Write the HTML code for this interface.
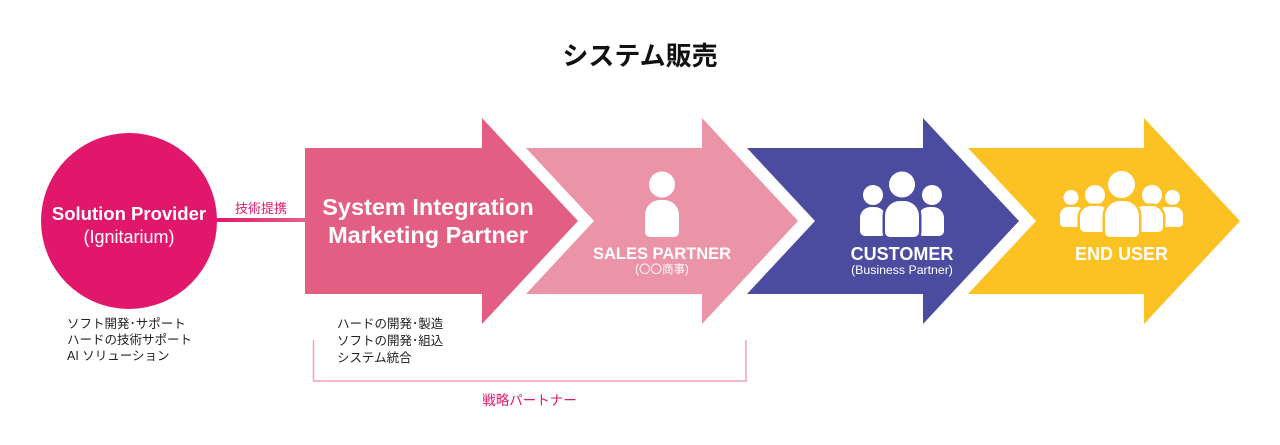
<!DOCTYPE html>
<html>
<head>
<meta charset="utf-8">
<style>
html,body{margin:0;padding:0;background:#fff;}
svg{display:block;}
.jp{font-family:"Liberation Sans","Noto Sans CJK JP",sans-serif;}
.lt{font-family:"Liberation Sans","Noto Sans CJK JP",sans-serif;}
</style>
</head>
<body>
<svg width="1280" height="445" viewBox="0 0 1280 445" xmlns="http://www.w3.org/2000/svg">
  <defs>
    <linearGradient id="lg" x1="0" y1="0" x2="1" y2="0">
      <stop offset="0" stop-color="#E0176B"/>
      <stop offset="1" stop-color="#E3628A"/>
    </linearGradient>
  </defs>
  <rect width="1280" height="445" fill="#fff"/>

  <!-- Title -->
  <text x="640" y="65" text-anchor="middle" class="jp" font-size="26" font-weight="bold" fill="#111">システム販売</text>

  <!-- Connector -->
  <rect x="214" y="218" width="92" height="4" fill="url(#lg)"/>
  <text x="261" y="213" text-anchor="middle" class="jp" font-size="13" fill="#E0176B">技術提携</text>

  <!-- Circle -->
  <circle cx="129" cy="221" r="88" fill="#E0176B"/>
  <text x="129" y="220" text-anchor="middle" class="lt" font-size="18.5" font-weight="bold" fill="#fff">Solution Provider</text>
  <text x="129" y="243" text-anchor="middle" class="lt" font-size="18" fill="#fff">(Ignitarium)</text>

  <text class="jp" font-size="12.5" fill="#222">
    <tspan x="67" y="328">ソフト開発･サポート</tspan>
    <tspan x="67" y="344">ハードの技術サポート</tspan>
    <tspan x="67" y="360">AI ソリューション</tspan>
  </text>

  <!-- Arrows -->
  <polygon points="305,148 482,148 482,118 578,221 482,324 482,294 305,294" fill="#E25F83"/>
  <polygon points="526,148 702,148 702,118 798,221 702,324 702,294 526,294 594,221" fill="#EB93A7"/>
  <polygon points="747,148 923,148 923,118 1019,221 923,324 923,294 747,294 815,221" fill="#4B4C9F"/>
  <polygon points="968,148 1144,148 1144,118 1240,221 1144,324 1144,294 968,294 1036,221" fill="#FCC123"/>

  <!-- SIMP text -->
  <text x="428" y="215" text-anchor="middle" class="lt" font-size="23.5" font-weight="bold" fill="#fff">System Integration</text>
  <text x="428" y="243" text-anchor="middle" class="lt" font-size="23.5" font-weight="bold" fill="#fff">Marketing Partner</text>

  <text class="jp" font-size="12.5" fill="#222">
    <tspan x="337" y="328">ハードの開発･製造</tspan>
    <tspan x="337" y="345">ソフトの開発･組込</tspan>
    <tspan x="337" y="362">システム統合</tspan>
  </text>

  <!-- Bracket -->
  <path d="M313.5,340 V381 H746 V340" fill="none" stroke="#F0A3B8" stroke-width="1.5"/>
  <text x="529.5" y="405" text-anchor="middle" class="jp" font-size="13.5" fill="#E0176B">戦略パートナー</text>

  <!-- Sales partner icon -->
  <circle cx="662" cy="184.5" r="13" fill="#fff"/>
  <path d="M645,232 V215 A15,15 0 0 1 660,200 H664 A15,15 0 0 1 679,215 V232 A5,5 0 0 1 674,237 H650 A5,5 0 0 1 645,232 Z" fill="#fff"/>
  <text x="662" y="259" text-anchor="middle" class="lt" font-size="16.5" font-weight="bold" fill="#fff">SALES PARTNER</text>
  <text x="662" y="273" text-anchor="middle" class="jp" font-size="11.5" fill="#fff">(〇〇商事)</text>

  <!-- Customer icon -->
  <circle cx="873" cy="195" r="10" fill="#fff"/>
  <circle cx="932" cy="195" r="10" fill="#fff"/>
  <path d="M860,231 V218 A11,11 0 0 1 871,207 H875 A11,11 0 0 1 886,218 V231 A5,5 0 0 1 881,236 H865 A5,5 0 0 1 860,231 Z" fill="#fff"/>
  <path d="M918,231 V218 A11,11 0 0 1 929,207 H933 A11,11 0 0 1 944,218 V231 A5,5 0 0 1 939,236 H923 A5,5 0 0 1 918,231 Z" fill="#fff"/>
  <path d="M885,232 V216 A15,15 0 0 1 900,201 H904 A15,15 0 0 1 919,216 V232 A5,5 0 0 1 914,237 H890 A5,5 0 0 1 885,232 Z" fill="#fff" stroke="#4B4C9F" stroke-width="5" paint-order="stroke"/>
  <circle cx="902" cy="184.5" r="13" fill="#fff"/>
  <text x="902" y="260" text-anchor="middle" class="lt" font-size="18" font-weight="bold" fill="#fff">CUSTOMER</text>
  <text x="902" y="274" text-anchor="middle" class="lt" font-size="12.3" fill="#fff">(Business Partner)</text>

  <!-- End user icon -->
  <circle cx="1071" cy="197.5" r="7.5" fill="#fff"/>
  <circle cx="1172.5" cy="197.5" r="7.5" fill="#fff"/>
  <path d="M1060,223 V215 A8,8 0 0 1 1068,207 H1077 A8,8 0 0 1 1085,215 V223 A4,4 0 0 1 1081,227 H1064 A4,4 0 0 1 1060,223 Z" fill="#fff"/>
  <path d="M1158,223 V215 A8,8 0 0 1 1166,207 H1175 A8,8 0 0 1 1183,215 V223 A4,4 0 0 1 1179,227 H1162 A4,4 0 0 1 1158,223 Z" fill="#fff"/>
  <circle cx="1095" cy="195" r="10" fill="#fff"/>
  <circle cx="1152" cy="195" r="10" fill="#fff"/>
  <path d="M1080,227 V217 A11,11 0 0 1 1091,206 H1099 A11,11 0 0 1 1110,217 V227 A5,5 0 0 1 1105,232 H1085 A5,5 0 0 1 1080,227 Z" fill="#fff" stroke="#FCC123" stroke-width="5" paint-order="stroke"/>
  <path d="M1133,227 V217 A11,11 0 0 1 1144,206 H1152 A11,11 0 0 1 1163,217 V227 A5,5 0 0 1 1158,232 H1138 A5,5 0 0 1 1133,227 Z" fill="#fff" stroke="#FCC123" stroke-width="5" paint-order="stroke"/>
  <path d="M1105,232 V216 A15,15 0 0 1 1120,201 H1124 A15,15 0 0 1 1139,216 V232 A5,5 0 0 1 1134,237 H1110 A5,5 0 0 1 1105,232 Z" fill="#fff" stroke="#FCC123" stroke-width="5" paint-order="stroke"/>
  <circle cx="1121.5" cy="184.5" r="13.5" fill="#fff"/>
  <text x="1121.5" y="260" text-anchor="middle" class="lt" font-size="18" font-weight="bold" fill="#fff">END USER</text>
</svg>
</body>
</html>
